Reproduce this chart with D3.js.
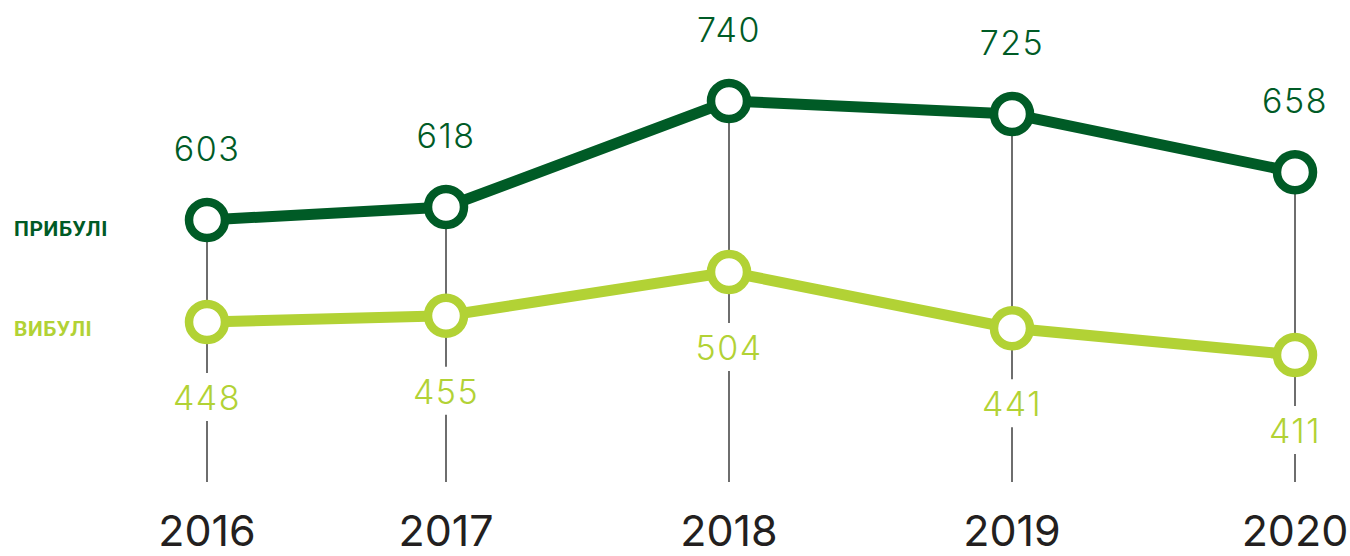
<!DOCTYPE html>
<html>
<head>
<meta charset="utf-8">
<script src="https://cdn.jsdelivr.net/npm/d3@7"></script>
<style>
  body { margin: 0; background: #fff; }
  svg { display: block; }
</style>
</head>
<body>
<script>
// chart data
var years = [2016, 2017, 2018, 2019, 2020];
var arrivals = [603, 618, 740, 725, 658];   // ПРИБУЛІ
var departures = [448, 455, 504, 441, 411]; // ВИБУЛІ
var seriesNames = ["ПРИБУЛІ", "ВИБУЛІ"];

var w = 1350;
var h = 556;

var darkGreen = "#005b26";
var lightGreen = "#b2d235";
var numFont = "Inter, 'Open Sans', sans-serif";

var svg = d3.select("body").append("svg").attr("width", w).attr("height", h);

// x: first step is shorter in the original layout
var x = d3.scaleLinear().domain([2016, 2017, 2020]).range([207, 446, 1295]);
// each series sits in its own band
var yTop = d3.scaleLinear().domain([603, 740]).range([220, 101]);
var yBot = d3.scaleLinear().domain([411, 504]).range([355, 272]);

var r = 18;
var labelUp = 59, labelDown = 88;
var axisBottom = 482;

var rows = years.map(function(y, i) {
    return { year: y, top: arrivals[i], bot: departures[i] };
});

// grey drop lines, broken around the lower label
var guides = svg.append("g").attr("stroke", "#4a4a4a").attr("stroke-width", 1.6);
rows.forEach(function(d) {
    var lblBase = yBot(d.bot) + labelDown;
    guides.append("line")
        .attr("x1", x(d.year)).attr("x2", x(d.year))
        .attr("y1", yTop(d.top)).attr("y2", lblBase - 37);
    guides.append("line")
        .attr("x1", x(d.year)).attr("x2", x(d.year))
        .attr("y1", lblBase + 11).attr("y2", axisBottom);
});

function drawSeries(key, yScale, color) {
    var line = d3.line()
        .x(function(d) { return x(d.year); })
        .y(function(d) { return yScale(d[key]); });
    svg.append("path")
        .datum(rows)
        .attr("fill", "none")
        .attr("stroke", color)
        .attr("stroke-width", 11)
        .attr("d", line);
    svg.append("g").selectAll("circle")
        .data(rows)
        .enter()
        .append("circle")
        .attr("cx", function(d) { return x(d.year); })
        .attr("cy", function(d) { return yScale(d[key]); })
        .attr("r", r)
        .attr("fill", "#fff")
        .attr("stroke", color)
        .attr("stroke-width", 8.5);
}
drawSeries("top", yTop, darkGreen);
drawSeries("bot", yBot, lightGreen);

// value labels
svg.append("g").selectAll("text")
    .data(rows)
    .enter()
    .append("text")
    .attr("x", function(d) { return x(d.year); })
    .attr("y", function(d) { return yTop(d.top) - labelUp; })
    .attr("text-anchor", "middle")
    .attr("font-family", numFont)
    .attr("font-weight", 300)
    .attr("font-size", 34)
    .attr("letter-spacing", 1.5)
    .attr("fill", darkGreen)
    .text(function(d) { return d.top; });

svg.append("g").selectAll("text")
    .data(rows)
    .enter()
    .append("text")
    .attr("x", function(d) { return x(d.year); })
    .attr("y", function(d) { return yBot(d.bot) + labelDown; })
    .attr("text-anchor", "middle")
    .attr("font-family", numFont)
    .attr("font-weight", 300)
    .attr("font-size", 34)
    .attr("letter-spacing", 1.5)
    .attr("fill", lightGreen)
    .text(function(d) { return d.bot; });

// years along the bottom
svg.append("g").selectAll("text")
    .data(years)
    .enter()
    .append("text")
    .attr("x", function(d) { return x(d); })
    .attr("y", 546)
    .attr("text-anchor", "middle")
    .attr("font-family", numFont)
    .attr("font-weight", 400)
    .attr("font-size", 43)
    .attr("fill", "#231f20")
    .text(function(d) { return d; });

// series names on the left
svg.append("g").selectAll("text")
    .data(seriesNames)
    .enter()
    .append("text")
    .attr("x", 14)
    .attr("y", function(d, i) { return i == 0 ? 236 : 336; })
    .attr("font-family", "Roboto, 'Liberation Sans', sans-serif")
    .attr("font-weight", 700)
    .attr("font-size", 21)
    .attr("letter-spacing", 0.6)
    .attr("fill", function(d, i) { return i == 0 ? darkGreen : lightGreen; })
    .text(function(d) { return d; });
</script>
</body>
</html>
